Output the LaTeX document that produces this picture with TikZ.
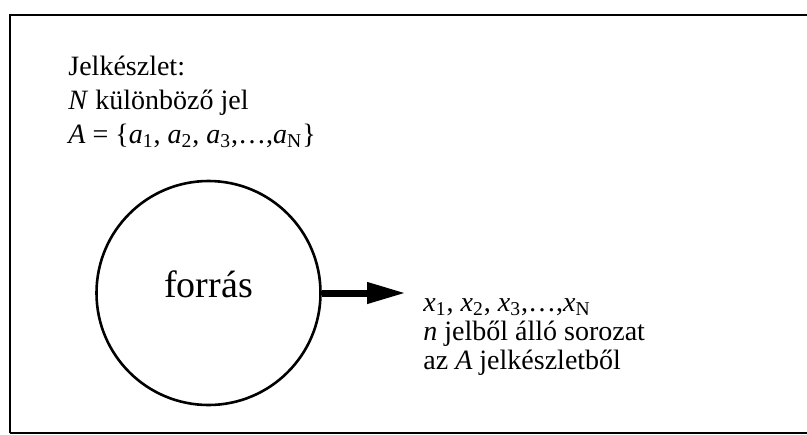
\documentclass[tikz,border=0pt]{standalone}
\usepackage{fontspec}
\setmainfont{Liberation Serif}
\usetikzlibrary{arrows.meta}
\begin{document}
\begin{tikzpicture}[x=0.5pt,y=-0.5pt,
  txt/.style={anchor=base west,inner sep=0pt,font=\fontsize{14pt}{16pt}\selectfont},
  src/.style={circle,draw,line width=1.3pt,minimum size=112pt,inner sep=0pt,
    text height=5pt,font=\fontsize{19pt}{22pt}\selectfont}]
\useasboundingbox (0,0) rectangle (807,434);
\draw[line width=1.3pt] (10,433) -- (10,15) -- (830,15);
\draw[line width=0.8pt] (10,433) -- (830,433);

\node[txt] (set1) at (68,75) {Jelkészlet:};
\node[txt] (set2) at (68,109) {\textit{N} különböző jel};
\node[txt] (set3) at (68,143) {\textit{A} = \{\textit{a}\textsubscript{1}, \textit{a}\textsubscript{2}, \textit{a}\textsubscript{3},\ldots,\textit{a}\textsubscript{N}\}};

\node[src] (forras) at (208.5,293) {forrás};
\coordinate (tip) at (406,293);
\draw[line width=3.5pt,-{Triangle[length=19.5pt,width=10pt]}] (forras.east) -- (tip);

\node[txt] (seq1) at (423,311) {\textit{x}\textsubscript{1}, \textit{x}\textsubscript{2}, \textit{x}\textsubscript{3},\ldots,\textit{x}\textsubscript{N}};
\node[txt] (seq2) at (423,340) {\textit{n} jelből álló sorozat};
\node[txt] (seq3) at (423,369) {az \textit{A} jelkészletből};
\end{tikzpicture}
\end{document}
